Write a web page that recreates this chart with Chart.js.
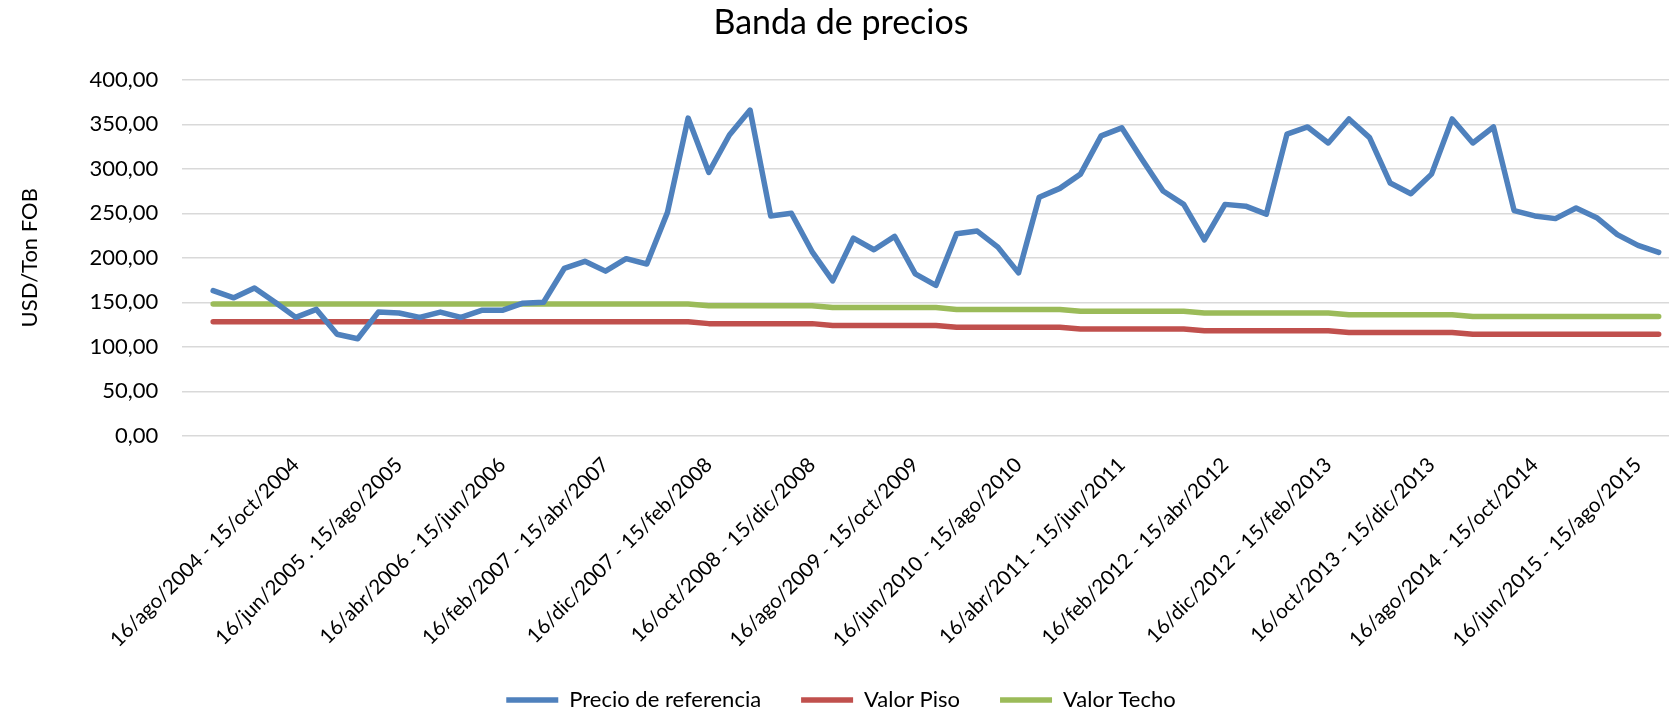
<!DOCTYPE html>
<html>
<head>
<meta charset="utf-8">
<script src="https://cdn.jsdelivr.net/npm/chart.js@4"></script>
<style>
  html, body { margin: 0; padding: 0; background: #ffffff; }
  #wrap { width: 1673px; height: 709px; position: relative; }
</style>
</head>
<body>
<div id="wrap"><canvas id="priceChart"></canvas></div>
<script>
// Bimonthly periods (first category is blank in the source sheet)
const periods = [
  '',
  '16/dic/2003 - 15/feb/2004', '16/feb/2004 - 15/abr/2004', '16/abr/2004 - 15/jun/2004', '16/jun/2004 - 15/ago/2004',
  '16/ago/2004 - 15/oct/2004', '16/oct/2004 - 15/dic/2004', '16/dic/2004 - 15/feb/2005', '16/feb/2005 - 15/abr/2005',
  '16/abr/2005 - 15/jun/2005', '16/jun/2005 . 15/ago/2005', '16/ago/2005 - 15/oct/2005', '16/oct/2005 - 15/dic/2005',
  '16/dic/2005 - 15/feb/2006', '16/feb/2006 - 15/abr/2006', '16/abr/2006 - 15/jun/2006', '16/jun/2006 - 15/ago/2006',
  '16/ago/2006 - 15/oct/2006', '16/oct/2006 - 15/dic/2006', '16/dic/2006 - 15/feb/2007', '16/feb/2007 - 15/abr/2007',
  '16/abr/2007 - 15/jun/2007', '16/jun/2007 - 15/ago/2007', '16/ago/2007 - 15/oct/2007', '16/oct/2007 - 15/dic/2007',
  '16/dic/2007 - 15/feb/2008', '16/feb/2008 - 15/abr/2008', '16/abr/2008 - 15/jun/2008', '16/jun/2008 - 15/ago/2008',
  '16/ago/2008 - 15/oct/2008', '16/oct/2008 - 15/dic/2008', '16/dic/2008 - 15/feb/2009', '16/feb/2009 - 15/abr/2009',
  '16/abr/2009 - 15/jun/2009', '16/jun/2009 - 15/ago/2009', '16/ago/2009 - 15/oct/2009', '16/oct/2009 - 15/dic/2009',
  '16/dic/2009 - 15/feb/2010', '16/feb/2010 - 15/abr/2010', '16/abr/2010 - 15/jun/2010', '16/jun/2010 - 15/ago/2010',
  '16/ago/2010 - 15/oct/2010', '16/oct/2010 - 15/dic/2010', '16/dic/2010 - 15/feb/2011', '16/feb/2011 - 15/abr/2011',
  '16/abr/2011 - 15/jun/2011', '16/jun/2011 - 15/ago/2011', '16/ago/2011 - 15/oct/2011', '16/oct/2011 - 15/dic/2011',
  '16/dic/2011 - 15/feb/2012', '16/feb/2012 - 15/abr/2012', '16/abr/2012 - 15/jun/2012', '16/jun/2012 - 15/ago/2012',
  '16/ago/2012 - 15/oct/2012', '16/oct/2012 - 15/dic/2012', '16/dic/2012 - 15/feb/2013', '16/feb/2013 - 15/abr/2013',
  '16/abr/2013 - 15/jun/2013', '16/jun/2013 - 15/ago/2013', '16/ago/2013 - 15/oct/2013', '16/oct/2013 - 15/dic/2013',
  '16/dic/2013 - 15/feb/2014', '16/feb/2014 - 15/abr/2014', '16/abr/2014 - 15/jun/2014', '16/jun/2014 - 15/ago/2014',
  '16/ago/2014 - 15/oct/2014', '16/oct/2014 - 15/dic/2014', '16/dic/2014 - 15/feb/2015', '16/feb/2015 - 15/abr/2015',
  '16/abr/2015 - 15/jun/2015', '16/jun/2015 - 15/ago/2015', '16/ago/2015 - 15/oct/2015'
];

const precioReferencia = [
  null,
  163, 155, 166, 150, 133, 142, 114, 109, 139, 138,
  133, 139, 133, 141, 141, 149, 150, 188, 196, 185,
  199, 193, 251, 357, 296, 338, 366, 247, 250, 207,
  174, 222, 209, 224, 182, 169, 227, 230, 212, 183,
  268, 278, 294, 337, 346, 310, 275, 260, 220, 260,
  258, 249, 339, 347, 329, 356, 335, 284, 272, 294,
  356, 329, 347, 253, 247, 244, 256, 245, 226, 214,
  206
];

const valorPiso = [
  null,
  128, 128, 128, 128, 128, 128, 128, 128, 128, 128,
  128, 128, 128, 128, 128, 128, 128, 128, 128, 128,
  128, 128, 128, 128, 126, 126, 126, 126, 126, 126,
  124, 124, 124, 124, 124, 124, 122, 122, 122, 122,
  122, 122, 120, 120, 120, 120, 120, 120, 118, 118,
  118, 118, 118, 118, 118, 116, 116, 116, 116, 116,
  116, 114, 114, 114, 114, 114, 114, 114, 114, 114,
  114
];

const valorTecho = [
  null,
  148, 148, 148, 148, 148, 148, 148, 148, 148, 148,
  148, 148, 148, 148, 148, 148, 148, 148, 148, 148,
  148, 148, 148, 148, 146, 146, 146, 146, 146, 146,
  144, 144, 144, 144, 144, 144, 142, 142, 142, 142,
  142, 142, 140, 140, 140, 140, 140, 140, 138, 138,
  138, 138, 138, 138, 138, 136, 136, 136, 136, 136,
  136, 134, 134, 134, 134, 134, 134, 134, 134, 134,
  134
];

const yTicks = [0, 50, 100, 150, 200, 250, 300, 350, 400];

Chart.defaults.font.family = 'Lato';
Chart.defaults.color = '#000000';

function lineSet(label, data, color) {
  return {
    label: label,
    data: data,
    borderColor: color,
    backgroundColor: color,
    borderWidth: 5.5,
    borderCapStyle: 'round',
    borderJoinStyle: 'round',
    pointRadius: 0,
    pointHoverRadius: 0,
    tension: 0,
    fill: false
  };
}

const ctx = document.getElementById('priceChart').getContext('2d');
new Chart(ctx, {
  type: 'line',
  data: {
    labels: periods,
    datasets: [
      lineSet('Precio de referencia', precioReferencia, '#4F81BD'),
      lineSet('Valor Piso', valorPiso, '#C0504D'),
      lineSet('Valor Techo', valorTecho, '#9BBB59')
    ]
  },
  options: {
    responsive: true,
    maintainAspectRatio: false,
    animation: false,
    layout: {
      padding: { left: 13, right: 4, top: 0, bottom: -12 }
    },
    plugins: {
      title: {
        display: true,
        text: 'Banda de precios',
        font: { size: 34, weight: 'normal' },
        color: '#000000',
        padding: { top: 3, bottom: 36 }
      },
      legend: {
        position: 'bottom',
        labels: {
          font: { size: 22 },
          usePointStyle: true,
          pointStyle: 'line',
          pointStyleWidth: 52,
          boxHeight: 5,
          padding: 40
        }
      },
      tooltip: { enabled: false }
    },
    scales: {
      x: {
        type: 'category',
        offset: true,
        grid: { display: false, drawTicks: false },
        border: { display: false },
        ticks: {
          autoSkip: false,
          minRotation: 45,
          maxRotation: 45,
          padding: 17,
          font: { size: 20.5 },
          callback: function (value, index) {
            return (index > 0 && index % 5 === 0) ? this.getLabelForValue(value) : '';
          }
        },
        afterFit: function (axis) {
          // labels may run closer to the legend, as in the original sheet
          axis.height -= 20;
          axis.paddingLeft = 0;
          axis.paddingRight = 0;
        }
      },
      y: {
        min: 0,
        max: 400,
        afterBuildTicks: function (axis) {
          axis.ticks = yTicks.map(v => ({ value: v }));
        },
        grid: { color: '#D9D9D9', lineWidth: 1.5, drawTicks: false },
        border: { display: false },
        ticks: {
          padding: 24,
          font: { size: 22 },
          callback: v => v.toFixed(2).replace('.', ',')
        },
        title: {
          display: true,
          text: 'USD/Ton FOB',
          font: { size: 22 },
          padding: { top: 4, bottom: 22 }
        }
      }
    }
  }
});
</script>
</body>
</html>
